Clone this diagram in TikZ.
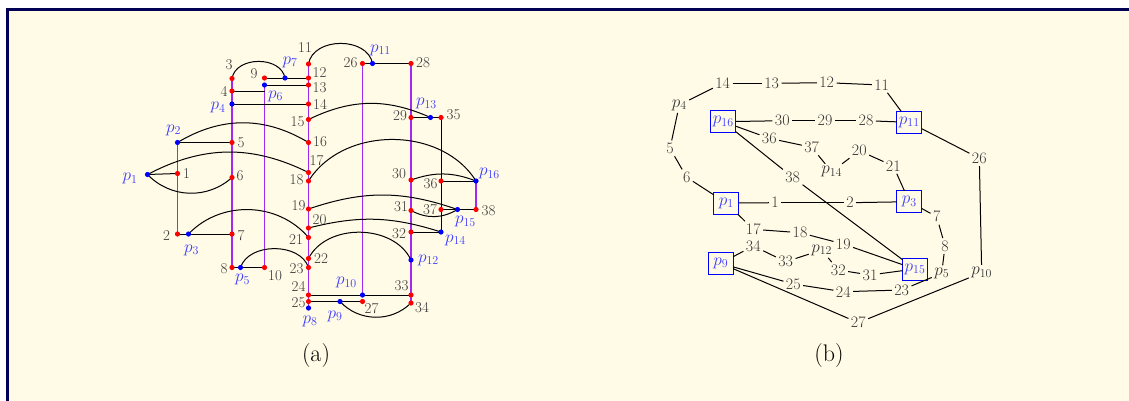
\documentclass[tikz,border=0pt]{standalone}
\usepackage{tikz}
\usetikzlibrary{calc}

\definecolor{paper}{RGB}{255,251,231}
\definecolor{framec}{RGB}{0,0,85}
\definecolor{barc}{RGB}{165,40,240}
\definecolor{pblue}{RGB}{60,60,255}
\definecolor{numc}{RGB}{55,55,55}

\begin{document}
\begin{tikzpicture}[x=1pt,y=1pt,every node/.style={outer sep=0pt}]
\tikzset{
    link/.style = {line width=1pt},
    bar/.style = {line width=1.6pt,barc},
    numlab/.style = {inner sep=0pt,text=numc,font=\fontsize{15}{18}\selectfont},
    plab/.style = {inner sep=0pt,text=pblue,font=\fontsize{17.5}{20}\selectfont},
    vert/.style = {inner sep=2.5pt,text=numc,font=\fontsize{16}{19}\selectfont},
    pvert/.style = {inner sep=2.5pt,text=numc,font=\fontsize{17.5}{20}\selectfont},
    pbox/.style = {draw=blue,line width=0.8pt,text=pblue,minimum width=25pt,minimum height=22pt,
                   inner sep=1pt,font=\fontsize{17.5}{20}\selectfont},
    subcap/.style = {font=\fontsize{24}{28}\selectfont}
}

\useasboundingbox (0,0) rectangle (1129,-400);
\fill[white] (0,0) rectangle (1129,-400);
\fill[paper] (7.5,-9.5) rectangle (1140,-410);
\draw[framec,line width=3pt] (1140,-9.5) -- (7.5,-9.5) -- (7.5,-410);

%%%% (a) the segments
%% column of 1, 2
\coordinate (ap2) at (177.5,-142.5);
\coordinate (a1) at (177.5,-173.5);
\coordinate (a2) at (177.5,-234);
\coordinate (ap1) at (147.5,-174.5);
\coordinate (ap3) at (188.5,-234);
%% column of 3 ... 8
\coordinate (a3) at (232,-78.5);
\coordinate (a4) at (232,-91);
\coordinate (ap4) at (232,-104);
\coordinate (a5) at (232,-142.5);
\coordinate (a6) at (232,-177.5);
\coordinate (a7) at (232,-234);
\coordinate (a8) at (232,-267.5);
\coordinate (ap5) at (240.5,-267.5);
%% column of 9, 10
\coordinate (a9) at (264.5,-78);
\coordinate (ap6) at (264.5,-85);
\coordinate (c4) at (264.5,-91);
\coordinate (a10) at (264.5,-267.5);
\coordinate (ap7) at (285,-78);
%% column of 11 ... 25
\coordinate (a11) at (308.5,-64);
\coordinate (a12) at (308.5,-78);
\coordinate (a13) at (308.5,-85);
\coordinate (a14) at (308.5,-104);
\coordinate (a15) at (308.5,-119.5);
\coordinate (a16) at (308.5,-142.5);
\coordinate (a17) at (308.5,-172.5);
\coordinate (a18) at (308.5,-181);
\coordinate (a19) at (308.5,-209);
\coordinate (a20) at (308.5,-228);
\coordinate (a21) at (308.5,-237.5);
\coordinate (a22) at (308.5,-258.5);
\coordinate (a23) at (308.5,-267.5);
\coordinate (a24) at (308.5,-295);
\coordinate (a25) at (308.5,-301.5);
\coordinate (ap8) at (308.5,-308);
%% column of 26, 27
\coordinate (a26) at (362.5,-63.5);
\coordinate (ap10) at (362.5,-295);
\coordinate (a27) at (362.5,-301.5);
\coordinate (ap11) at (372.5,-63.5);
\coordinate (ap9) at (340,-301.5);
%% column of 28 ... 34
\coordinate (a28) at (411,-63.5);
\coordinate (a29) at (411,-117.5);
\coordinate (a30) at (411,-180);
\coordinate (a31) at (411,-210.5);
\coordinate (a32) at (411,-232);
\coordinate (ap12) at (411,-260);
\coordinate (a33) at (411,-295);
\coordinate (a34) at (411,-303);
\coordinate (ap13) at (430.5,-117.5);
%% column of 35 ... 37, 38
\coordinate (a35) at (441,-117.5);
\coordinate (a36) at (441,-181);
\coordinate (a37) at (441,-209.5);
\coordinate (ap14) at (441,-232);
\coordinate (ap16) at (476,-181);
\coordinate (a38) at (476,-209.5);
\coordinate (ap15) at (457.5,-209.5);

%% purple bars
\draw[bar] (ap2) -- (a2);
\draw[bar] (a3) -- (a8);
\draw[bar] (ap6) -- (a10);
\draw[bar] (a11) -- (ap8);
\draw[bar] (a26) -- (ap10);
\draw[bar] (a28) -- (a34);
\draw[bar] (ap16) -- (a38);

%% straight pieces
\foreach \u/\v in {a9/a12, ap6/a13, a4/c4, ap4/a14, ap2/a5, ap1/a1, a2/a7, a8/a10, a24/a33,
                   a25/a27, a26/a28, a29/a35, a35/ap14, a36/ap16, a37/a38, a32/ap14}
    \draw[link] (\u) -- (\v);

%% arcs
\draw[link] (a3) to[bend left=80,looseness=1.1] (ap7);
\draw[link] (a11) to[bend left=80,looseness=1.1] (ap11);
\draw[link] (a15) to[bend left=25] (ap13);
\draw[link] (ap2) to[bend left=31] (a16);
\draw[link] (ap1) to[bend left=27] (a17);
\draw[link] (ap1) to[bend right=44] (a6);
\draw[link] (a18) to[bend left=58] (ap16);
\draw[link] (a30) to[bend left=20] (ap16);
\draw[link] (a19) to[bend left=19] (ap15);
\draw[link] (a31) to[bend right=29] (ap15);
\draw[link] (a20) to[bend left=16] (ap14);
\draw[link] (ap3) to[bend left=48] (a21);
\draw[link] (a22) to[bend left=64] (ap12);
\draw[link] (ap5) to[bend left=72] (a23);
\draw[link] (ap9) to[bend right=46] (a34);

%% dots
\foreach \n in {1,...,38} \fill[red] (a\n) circle (2.6);
\foreach \n in {1,...,16} \fill[blue] (ap\n) circle (2.6);

%% labels, shifted from their dots
\foreach \n/\dx/\dy in {1/9/0, 2/-11/-2, 3/-3/14, 4/-8/0, 5/9/0, 6/8/1.5, 7/9/-2, 8/-8/-1,
                        9/-10.5/4.5, 10/10.5/-8.5, 11/-3.5/16.5, 12/11/5, 13/11/-2.5, 14/11.5/0,
                        15/-11/-2, 16/11.5/0.5, 17/8/12, 18/-12/1.5, 19/-10/3, 20/11/8.5,
                        21/-12.5/-2.5, 22/12.5/-0.5, 23/-12/-1.5, 24/-10/8.5, 25/-10/-1.5,
                        26/-12/1, 27/9/-7.5, 28/12/1, 29/-11/1.5, 30/-12/6, 31/-10/4,
                        32/-12/-2, 33/-9.5/9, 34/11/-4.5, 35/12.5/2.5, 36/-10.5/-3, 37/-11/0,
                        38/12.5/-1}
    \node[numlab] (la\n) at ($(a\n)+(\dx,\dy)$) {\n};
\foreach \n/\dx/\dy in {1/-17.5/-4, 2/-4/12.5, 3/3/-16, 4/-14/-3.5, 5/2/-12, 6/11/-11, 7/5/16,
                        8/1.5/-13, 9/-5/-14.5, 10/-16/12.5, 11/8/13.5, 12/17.5/0, 13/-4/14,
                        14/14.5/-8, 15/8/-12, 16/13.5/7.5}
    \node[plab] (lp\n) at ($(ap\n)+(\dx,\dy)$) {$p_{\n}$};

\node (capa) [subcap] at (316,-356) {(a)};

%%%% (b) the graph
\node (qp4) [pvert] at (679.3,-105) {$p_4$};
\node (q14) [vert] at (722.7,-83.3) {14};
\node (q13) [vert] at (771.7,-83.3) {13};
\node (q12) [vert] at (826.7,-82.7) {12};
\node (q11) [vert] at (881.7,-85) {11};
\node (qp11) [pbox] at (909.3,-122.3) {$p_{11}$};
\node (q28) [vert] at (866,-120.7) {28};
\node (q29) [vert] at (825,-120.7) {29};
\node (q30) [vert] at (782.3,-120.7) {30};
\node (qp16) [pbox] at (723.3,-121.7) {$p_{16}$};
\node (q36) [vert] at (769.3,-138.3) {36};
\node (q37) [vert] at (811.7,-147.3) {37};
\node (qp14) [pvert] at (831.7,-171.7) {$p_{14}$};
\node (q20) [vert] at (859.3,-150.7) {20};
\node (q21) [vert] at (893.3,-166) {21};
\node (qp3) [pbox] at (909.3,-201.7) {$p_3$};
\node (q2) [vert] at (850,-202.7) {2};
\node (q1) [vert] at (775,-202.7) {1};
\node (qp1) [pbox] at (726.3,-203) {$p_1$};
\node (q5) [vert] at (670,-148.3) {5};
\node (q6) [vert] at (686.7,-177.3) {6};
\node (q38) [vert] at (792.7,-177.3) {38};
\node (q26) [vert] at (979.3,-158.3) {26};
\node (q17) [vert] at (753.3,-229.3) {17};
\node (q18) [vert] at (800,-232.7) {18};
\node (q19) [vert] at (843.3,-244) {19};
\node (q34) [vert] at (753.3,-246) {34};
\node (q33) [vert] at (785.7,-261.7) {33};
\node (qp12) [pvert] at (821.7,-250) {$p_{12}$};
\node (q32) [vert] at (838.3,-270) {32};
\node (q31) [vert] at (870,-275) {31};
\node (qp15) [pbox] at (915,-269) {$p_{15}$};
\node (qp9) [pbox] at (720.7,-263.3) {$p_9$};
\node (q25) [vert] at (793.3,-284) {25};
\node (q24) [vert] at (843.3,-291.7) {24};
\node (q23) [vert] at (901.7,-290) {23};
\node (q27) [vert] at (858.3,-322.7) {27};
\node (q7) [vert] at (936.7,-216.7) {7};
\node (q8) [vert] at (945,-246) {8};
\node (qp5) [pvert] at (941.7,-273.3) {$p_5$};
\node (qp10) [pvert] at (981.7,-272.7) {$p_{10}$};

\foreach \u/\v in {qp4/q14, q14/q13, q13/q12, q12/q11, q11/qp11, qp11/q26, q26/qp10, qp10/q27,
                   q27/qp9, qp4/q5, q5/q6, q6/qp1, qp1/q1, q1/q2, q2/qp3, qp3/q7, q7/q8, q8/qp5,
                   qp5/q23, q23/q24, q24/q25, q25/qp9, qp9/q34, q34/q33, q33/qp12, qp12/q32,
                   q32/q31, q31/qp15, qp1/q17, q17/q18, q18/q19, q19/qp15, qp16/q30, q30/q29,
                   q29/q28, q28/qp11, qp16/q36, q36/q37, q37/qp14, qp14/q20, q20/q21, q21/qp3,
                   qp16/q38, q38/qp15}
    \draw[link] (\u) -- (\v);

\node (capb) [subcap] at (829,-356) {(b)};

\end{tikzpicture}
\end{document}
